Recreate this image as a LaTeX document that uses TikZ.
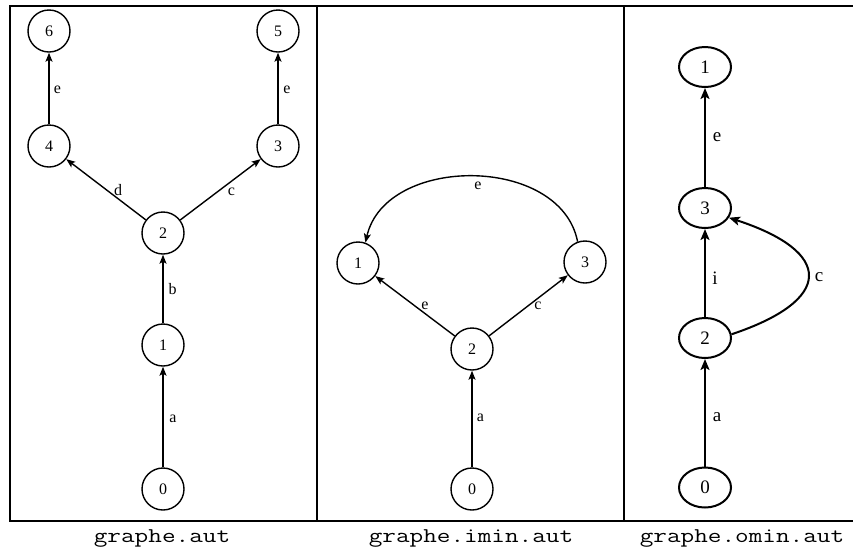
\documentclass[tikz,border=0pt]{standalone}
\usepackage{fontspec}
\setmainfont{Liberation Serif}
\usetikzlibrary{arrows.meta,shapes.geometric}
\begin{document}
\begin{tikzpicture}[x=1pt,y=-1pt,
  frame/.style={line width=2pt},
  stA/.style={circle,draw,line width=1.4pt,minimum size=42pt,inner sep=0pt,font=\fontsize{16}{16}\selectfont},
  stB/.style={ellipse,draw,line width=2pt,minimum width=52pt,minimum height=40pt,inner sep=0pt,font=\fontsize{19}{19}\selectfont},
  edA/.style={line width=1.4pt,-{Stealth[length=9pt,width=7pt,inset=2pt]}},
  edB/.style={line width=2pt,-{Stealth[length=11pt,width=9pt,inset=2.5pt]}},
  lblA/.style={inner sep=0pt,font=\fontsize{16}{16}\selectfont},
  lblB/.style={inner sep=0pt,font=\fontsize{19}{19}\selectfont},
  captxt/.style={inner sep=0pt,anchor=base,font=\fontsize{21}{21}\ttfamily}]
\useasboundingbox (0,0) rectangle (853,550);
% frame
\coordinate (tl) at (10,5.5);
\coordinate (tr) at (853,5.5);
\coordinate (bl) at (10,520.5);
\coordinate (br) at (853,520.5);
\coordinate (d1t) at (316.5,5.5);
\coordinate (d1b) at (316.5,520.5);
\coordinate (d2t) at (623.5,5.5);
\coordinate (d2b) at (623.5,520.5);
\draw[frame] (tr) -- (tl) -- (bl) -- (br);
\draw[frame] (d1t) -- (d1b);
\draw[frame] (d2t) -- (d2b);
% panel 1
\node[stA] (a6) at (49,31) {6};
\node[stA] (a5) at (278,31) {5};
\node[stA] (a4) at (49,146) {4};
\node[stA] (a3) at (278,146) {3};
\node[stA] (a2) at (163,233) {2};
\node[stA] (a1) at (163,345) {1};
\node[stA] (a0) at (163,489) {0};
\draw[edA] (a4) -- (a6);
\draw[edA] (a3) -- (a5);
\draw[edA] (a2) -- (a4);
\draw[edA] (a2) -- (a3);
\draw[edA] (a1) -- (a2);
\draw[edA] (a0) -- (a1);
\node[lblA] (la46) at (57.5,90) {e};
\node[lblA] (la35) at (287,90) {e};
\node[lblA] (la24) at (118,190) {d};
\node[lblA] (la23) at (231.5,192) {c};
\node[lblA] (la12) at (172.5,289) {b};
\node[lblA] (la01) at (173,419) {a};
\node[captxt] (capA) at (162,542) {\scalebox{1.26}[1]{graphe.aut}};
% panel 2
\node[stA] (b1) at (358,263) {1};
\node[stA] (b3) at (585,262) {3};
\node[stA] (b2) at (472,349) {2};
\node[stA] (b0) at (472,489) {0};
\draw[edA] (b0) -- (b2);
\draw[edA] (b2) -- (b1);
\draw[edA] (b2) -- (b3);
\draw[edA] (b3.110) .. controls +(-17,-87) and +(20,-88) .. (b1.70);
\node[lblA] (lb31) at (478,186) {e};
\node[lblA] (lb21) at (425,306) {e};
\node[lblA] (lb23) at (538,306) {c};
\node[lblA] (lb02) at (480.5,418) {a};
\node[captxt] (capB) at (471,542) {\scalebox{1.26}[1]{graphe.imin.aut}};
% panel 3
\node[stB] (c1) at (705,67) {1};
\node[stB] (c3) at (705,208) {3};
\node[stB] (c2) at (705,338) {2};
\node[stB] (c0) at (705,487.5) {0};
\draw[edB] (c0) -- (c2);
\draw[edB] (c2) -- (c3);
\draw[edB] (c3) -- (c1);
\draw[edB] (c2.8) .. controls (834,300) and (834,252) .. (c3.-22);
\node[lblB] (lc31) at (717,137) {e};
\node[lblB] (lc23) at (715,278) {i};
\node[lblB] (lc23b) at (819,277) {c};
\node[lblB] (lc02) at (717,417) {a};
\node[captxt] (capC) at (742,542) {\scalebox{1.26}[1]{graphe.omin.aut}};
\end{tikzpicture}
\end{document}
